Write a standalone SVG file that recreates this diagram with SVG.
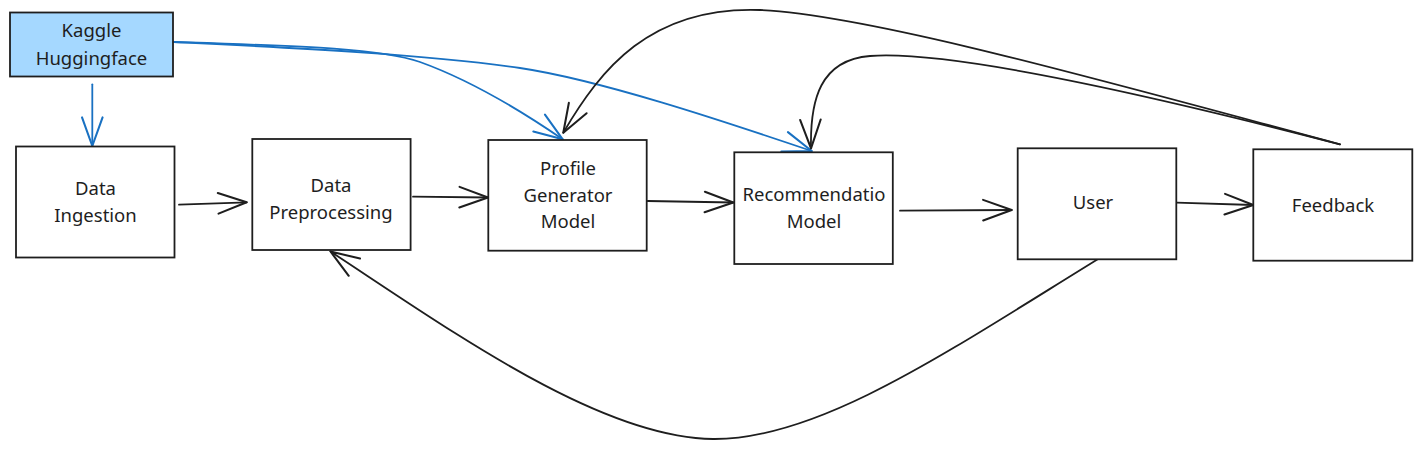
<svg xmlns="http://www.w3.org/2000/svg" width="1421" height="449" viewBox="0 0 1421 449">
  <style>
    .box { fill: #ffffff; stroke: #1e1e1e; stroke-width: 1.8; }
    .src { fill: #a5d8ff; stroke: #1e1e1e; stroke-width: 1.8; }
    .lbl { font-family: "Noto Sans", "Liberation Sans", sans-serif; font-size: 18.5px; fill: #1e1e1e; text-anchor: middle; }
    .blk { fill: none; stroke: #1e1e1e; stroke-width: 1.8; stroke-linecap: round; marker-end: url(#ah-black); }
    .blu { fill: none; stroke: #1971c2; stroke-width: 1.8; stroke-linecap: round; marker-end: url(#ah-blue); }
  </style>
  <defs>
    <marker id="ah-black" markerUnits="userSpaceOnUse" markerWidth="40" markerHeight="40" viewBox="-30 -15 35 30" refX="0" refY="0" orient="auto">
      <path d="M-25,-9 L0,0 L-25,9" fill="none" stroke="#1e1e1e" stroke-width="1.8" stroke-linecap="round" stroke-linejoin="round"/>
    </marker>
    <marker id="ah-blue" markerUnits="userSpaceOnUse" markerWidth="40" markerHeight="40" viewBox="-30 -15 35 30" refX="0" refY="0" orient="auto">
      <path d="M-25,-9 L0,0 L-25,9" fill="none" stroke="#1971c2" stroke-width="1.8" stroke-linecap="round" stroke-linejoin="round"/>
    </marker>
  </defs>
  <rect width="1421" height="449" fill="#ffffff"/>

  <g id="connectors">
    <path class="blu" d="M92.3,84.3 L92.3,146"/>
    <path class="blu" d="M174,42 C300,46 380,48 420,62 C470,80 520,110 562.7,139.3"/>
    <path class="blu" d="M174,42 C300,48 430,55 520,68 C600,80 720,120 811.7,151"/>
    <path class="blk" d="M179,204.7 L246.7,202.3"/>
    <path class="blk" d="M413,196.7 L488,197.5"/>
    <path class="blk" d="M647.7,201 L733.3,202.5"/>
    <path class="blk" d="M900,210.7 L1011.7,210"/>
    <path class="blk" d="M1176.7,202.7 L1253.3,205"/>
    <path class="blk" d="M1340,144.3 C1100,80 870,15 760,10 C650,6 600,70 563.3,132.7"/>
    <path class="blk" d="M1340,144.3 C1150,95 950,50 870,56 C820,60 810,100 811,148.3"/>
    <path class="blk" d="M1103,256 C950,350 820,440 713,439 C600,438 450,330 330.5,251.5"/>
  </g>

  <g id="kaggle">
    <rect class="src" x="10" y="12.5" width="163" height="64"/>
    <text class="lbl" x="91.5" y="37">Kaggle</text>
    <text class="lbl" x="91.5" y="64.5">Huggingface</text>
  </g>
  <g id="ingestion">
    <rect class="box" x="16" y="146.5" width="158.5" height="111"/>
    <text class="lbl" x="95.5" y="195">Data</text>
    <text class="lbl" x="95.5" y="222">Ingestion</text>
  </g>
  <g id="preprocessing">
    <rect class="box" x="252.3" y="139" width="158.3" height="111"/>
    <text class="lbl" x="331" y="192">Data</text>
    <text class="lbl" x="331" y="219">Preprocessing</text>
  </g>
  <g id="profile">
    <rect class="box" x="488.3" y="140" width="158.4" height="110.7"/>
    <text class="lbl" x="568" y="175">Profile</text>
    <text class="lbl" x="568" y="201.7">Generator</text>
    <text class="lbl" x="568" y="228.3">Model</text>
  </g>
  <g id="recommendation">
    <rect class="box" x="734.3" y="152.3" width="158.5" height="111.7"/>
    <text class="lbl" x="814" y="201">Recommendatio</text>
    <text class="lbl" x="814" y="228">Model</text>
  </g>
  <g id="user">
    <rect class="box" x="1017.7" y="148.3" width="158.6" height="111"/>
    <text class="lbl" x="1093" y="209">User</text>
  </g>
  <g id="feedback">
    <rect class="box" x="1253.3" y="149.3" width="159" height="111.4"/>
    <text class="lbl" x="1333" y="212">Feedback</text>
  </g>
</svg>
